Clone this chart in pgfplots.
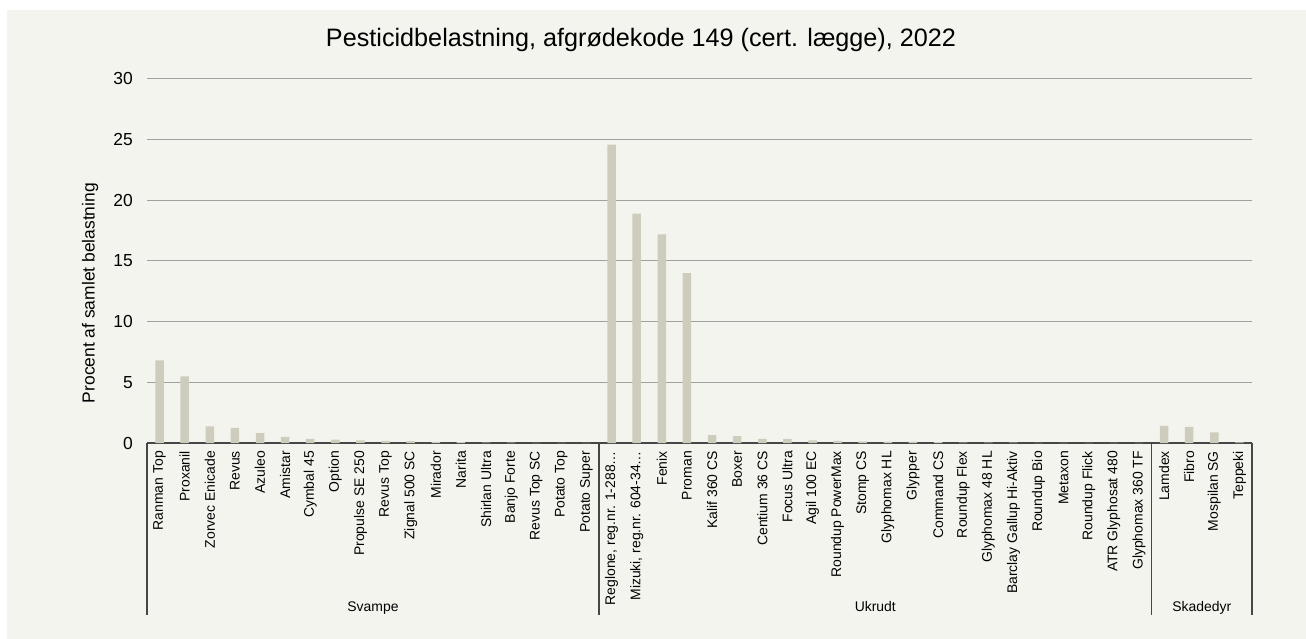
\documentclass[border=0pt]{standalone}
\usepackage{pgfplots}
\pgfplotsset{compat=1.18}
\usepackage{fontspec}
\setmainfont{Liberation Sans}
\definecolor{bgc}{RGB}{244,244,239}
\definecolor{barc}{RGB}{206,205,189}
\definecolor{gridc}{RGB}{160,160,160}
\definecolor{axc}{RGB}{70,70,70}
\begin{document}
\begin{tikzpicture}
\fill[white] (0bp,0bp) rectangle (1306bp,639bp);
\fill[bgc] (7bp,0bp) rectangle (1306bp,629bp);
\node[font=\fontsize{25.3}{29}\selectfont, anchor=base] at (641bp,592bp) {Pesticidbelastning, afgrødekode 149 (cert. lægge), 2022};
\begin{axis}[
  at={(147bp,196bp)}, anchor=south west,
  scale only axis, width=1105bp, height=364bp,
  xmin=-0.5, xmax=43.5, ymin=0, ymax=30,
  ytick={0,5,10,15,20,25,30},
  xtick={0,1,2,3,4,5,6,7,8,9,10,11,12,13,14,15,16,17,18,19,20,21,22,23,24,25,26,27,28,29,30,31,32,33,34,35,36,37,38,39,40,41,42,43},
  xticklabels={Ranman Top,Proxanil,Zorvec Enicade,Revus,Azuleo,Amistar,Cymbal 45,Option,Propulse SE 250,Revus Top,Zignal 500 SC,Mirador,Narita,Shirlan Ultra,Banjo Forte,Revus Top SC,Potato Top,Potato Super,{Reglone, reg.nr. 1-288…},{Mizuki, reg.nr. 604-34…},Fenix,Proman,Kalif 360 CS,Boxer,Centium 36 CS,Focus Ultra,Agil 100 EC,Roundup PowerMax,Stomp CS,Glyphomax HL,Glypper,Command CS,Roundup Flex,Glyphomax 48 HL,Barclay Gallup Hi-Aktiv,Roundup Bio,Metaxon,Roundup Flick,ATR Glyphosat 480,Glyphomax 360 TF,Lamdex,Fibro,Mospilan SG,Teppeki},
  xticklabel style={rotate=90, anchor=east, font=\fontsize{14}{16}\selectfont, inner sep=0pt, xshift=-8bp},
  yticklabel style={font=\fontsize{17.5}{20}\selectfont, inner sep=0pt, xshift=-14bp},
  /pgf/number format/assume math mode=true,
  axis x line*=bottom, axis y line*=left,
  x axis line style={draw=axc, line width=1.2bp, -},
  y axis line style={draw=none},
  major tick style={draw=none},
  ymajorgrids, grid style={draw=gridc, line width=1bp},
  ylabel={Procent af samlet belastning},
  ylabel style={font=\fontsize{17.5}{20}\selectfont, at={(axis description cs:0,0.412)}, anchor=center, yshift=57bp},
  clip=false,
  axis background/.style={fill=bgc},
]
\addplot[ybar, bar width=8.5bp, fill=barc, draw=none] coordinates {
(0,6.8) (1,5.5) (2,1.38) (3,1.25) (4,0.82) (5,0.5) (6,0.35) (7,0.27) (8,0.22) (9,0.17)
(10,0.16) (11,0.1) (12,0.08) (13,0.04) (14,0.03) (15,0.02) (16,0.01) (17,0.01)
(18,24.6) (19,18.9) (20,17.2) (21,14.0) (22,0.65) (23,0.56) (24,0.35) (25,0.33) (26,0.22)
(27,0.17) (28,0.13) (29,0.12) (30,0.11) (31,0.07) (32,0.04) (33,0.03) (34,0.03) (35,0.02)
(36,0.02) (37,0.01) (38,0.01) (39,0.01)
(40,1.42) (41,1.33) (42,0.87) (43,0.06)
};
\draw[axc, line width=1.2bp] (axis cs:-0.5,0) -- ++(0bp,-172bp);
\draw[axc, line width=1.2bp] (axis cs:17.5,0) -- ++(0bp,-172bp);
\draw[axc, line width=1.2bp] (axis cs:39.5,0) -- ++(0bp,-172bp);
\draw[axc, line width=1.2bp] (axis cs:43.5,0) -- ++(0bp,-172bp);
\node[font=\fontsize{14}{16}\selectfont, anchor=base] at (axis cs:8.5,0) [yshift=-168bp] {Svampe};
\node[font=\fontsize{14}{16}\selectfont, anchor=base] at (axis cs:28.5,0) [yshift=-168bp] {Ukrudt};
\node[font=\fontsize{14}{16}\selectfont, anchor=base] at (axis cs:41.5,0) [yshift=-168bp] {Skadedyr};
\end{axis}
\pgfresetboundingbox
\useasboundingbox (0bp,0bp) rectangle (1306bp,639bp);
\end{tikzpicture}
\end{document}
